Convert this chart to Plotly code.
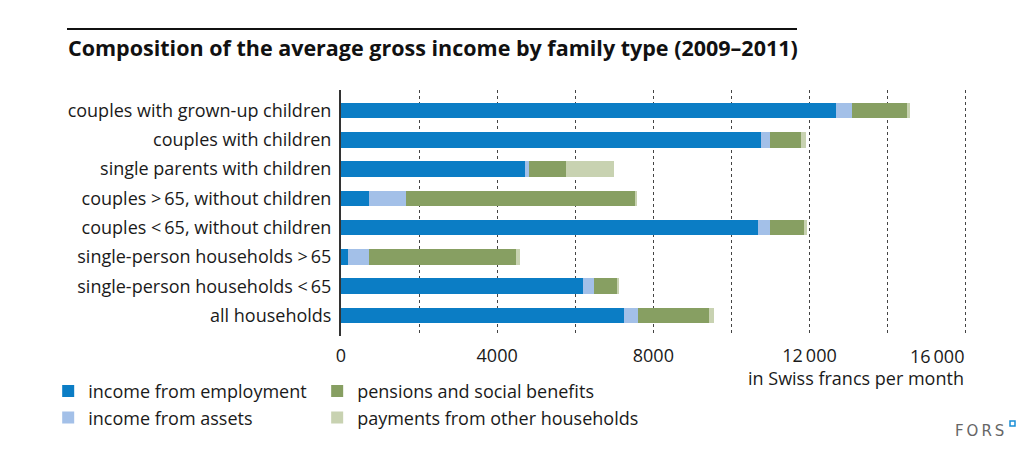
import plotly.graph_objects as go

categories = [
    "couples with grown-up children",
    "couples with children",
    "single parents with children",
    "couples >\u200965, without children",
    "couples <\u200965, without children",
    "single-person households >\u200965",
    "single-person households <\u200965",
    "all households",
]
employment = [12690, 10770, 4710, 710, 10680, 180, 6195, 7245]
assets = [400, 230, 100, 955, 320, 530, 275, 350]
pensions = [1400, 775, 950, 5890, 860, 3770, 605, 1835]
other = [75, 130, 1220, 35, 85, 100, 35, 130]

series_names = ["income from employment", "income from assets",
                "pensions and social benefits", "payments from other households"]
series_values = [employment, assets, pensions, other]
colors = ["#0b7dc5", "#a3c0e8", "#879f62", "#c8d2b1"]
legend_ids = ["legend", "legend", "legend2", "legend2"]

tick_vals = [0, 2000, 4000, 6000, 8000, 10000, 12000, 14000, 16000]
tick_text = ["0", "", "4000", "", "8000", "", "12\u2009000", "", "16\u2009000"]

FONT = "Open Sans"
TXT = "#1a1a1a"
FS = 18

fig = go.Figure()
for i, (name, vals, col, lg) in enumerate(zip(series_names, series_values, colors, legend_ids)):
    fig.add_trace(go.Bar(
        y=categories, x=vals, name=name, orientation="h",
        marker=dict(color=col, line=dict(width=0)),
        width=0.535, legend=lg, legendgroup="g%d" % i, hoverinfo="x+name",
    ))

# the last tick label is right-aligned to its gridline in the reference
axis_text = tick_text[:-1] + [""]

# page body has an 8px margin: figure is drawn 8px smaller and offset
fig.update_layout(
    width=1027, height=449,
    barmode="stack",
    plot_bgcolor="white", paper_bgcolor="white",
    margin=dict(l=333, r=67, t=82, b=121),
    font=dict(family=FONT, size=FS, color=TXT),
    xaxis=dict(
        range=[0, 16060], tickvals=tick_vals, ticktext=axis_text,
        showgrid=True, gridcolor="#444444", griddash="dot", gridwidth=1,
        zeroline=False, showline=False, ticks="", ticklabelstandoff=7,
        tickfont=dict(family=FONT, size=FS, color=TXT), fixedrange=True,
    ),
    yaxis=dict(
        range=[7.7, -0.7], showgrid=False, zeroline=False,
        showline=True, linecolor="#333333", linewidth=2,
        ticks="", ticklabelstandoff=4,
        tickfont=dict(family=FONT, size=FS, color=TXT), fixedrange=True,
    ),
    legend=dict(
        orientation="v", x=-0.467, xanchor="left", y=-0.15, yanchor="top",
        font=dict(family=FONT, size=FS, color=TXT), bgcolor="rgba(0,0,0,0)",
        itemclick=False, itemdoubleclick=False, tracegroupgap=1,
        traceorder="normal",
    ),
    legend2=dict(
        orientation="v", x=-0.038, xanchor="left", y=-0.15, yanchor="top",
        font=dict(family=FONT, size=FS, color=TXT), bgcolor="rgba(0,0,0,0)",
        itemclick=False, itemdoubleclick=False, tracegroupgap=1,
        traceorder="normal",
    ),
    showlegend=True,
    bargap=0,
)

# last x tick label, right-aligned at its gridline
fig.add_annotation(
    text=tick_text[-1], xref="x", yref="paper", x=tick_vals[-1], y=(336 - 356) / 246,
    xanchor="right", yanchor="middle", showarrow=False,
    font=dict(family=FONT, size=FS, color=TXT),
)

# title and rule above it
fig.add_annotation(
    text="<b>Composition of the average gross income by family type (2009\u20132011)</b>",
    xref="paper", yref="paper", x=(66 - 341) / 627, y=(336 - 47) / 246,
    xanchor="left", yanchor="middle", showarrow=False,
    font=dict(family=FONT, size=21.5, color="#111111"),
)
fig.add_shape(type="line", xref="paper", yref="paper",
              x0=(67 - 341) / 627, x1=(797 - 341) / 627,
              y0=(336 - 29) / 246, y1=(336 - 29) / 246,
              line=dict(color="#111111", width=2))

# axis unit
fig.add_annotation(
    text="in Swiss francs per month", xref="x", yref="paper",
    x=tick_vals[-1], y=(336 - 378) / 246, xanchor="right", yanchor="middle",
    showarrow=False, font=dict(family=FONT, size=FS, color=TXT),
)

# FORS logo
fig.add_annotation(
    text="F\u2009O\u2009R\u2009S", xref="paper", yref="paper",
    x=(1006 - 341) / 627, y=(336 - 431) / 246, xanchor="right", yanchor="middle",
    showarrow=False, font=dict(family="DejaVu Sans", size=15, color="#666666"),
)
fig.add_shape(type="rect", xref="paper", yref="paper",
              x0=(1010 - 341) / 627, x1=(1015 - 341) / 627,
              y0=(336 - 426) / 246, y1=(336 - 421) / 246,
              line=dict(color="#1a8fd6", width=1.5), fillcolor="white")

fig.write_html("out.html")
